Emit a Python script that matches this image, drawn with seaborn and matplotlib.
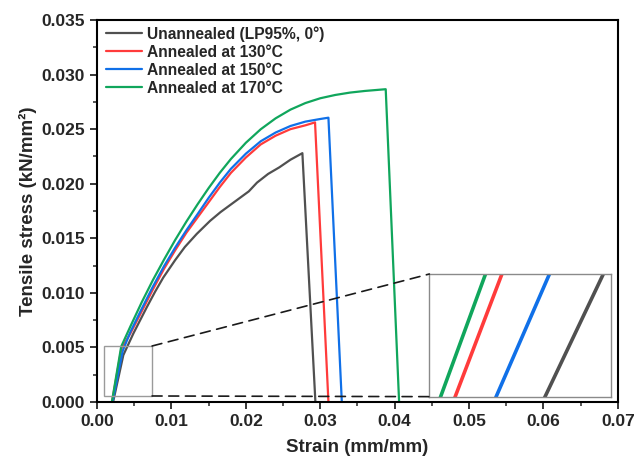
import numpy as np
import pandas as pd
import matplotlib
matplotlib.use("Agg")
import matplotlib.pyplot as plt
import seaborn as sns
from matplotlib.patches import Rectangle, ConnectionPatch
from matplotlib.ticker import MultipleLocator, FormatStrFormatter

# ---------------- data ----------------
series_names = ["Unannealed (LP95%, 0°)", "Annealed at 130°C",
                "Annealed at 150°C", "Annealed at 170°C"]

strain_unannealed = [0.002159, 0.003537, 0.0049, 0.0067, 0.0078, 0.0089, 0.0105,
                     0.0118, 0.0134, 0.0152, 0.0166, 0.0179, 0.0192, 0.0204,
                     0.0215, 0.0230, 0.0245, 0.0260, 0.0276, 0.02935]
stress_unannealed = [0.0, 0.0043, 0.0063, 0.0087, 0.0101, 0.0114, 0.0130,
                     0.0142, 0.0154, 0.0166, 0.0174, 0.01805, 0.0187, 0.0193,
                     0.0201, 0.0209, 0.0215, 0.0222, 0.0228, 0.0]

strain_130 = [0.002017, 0.003277, 0.0045, 0.0060, 0.0075, 0.0090, 0.0105,
              0.0120, 0.0135, 0.0150, 0.0165, 0.0180, 0.0200, 0.0220,
              0.0240, 0.0260, 0.0280, 0.0293, 0.0311]
stress_130 = [0.0, 0.0049, 0.0063, 0.0083, 0.0103, 0.0122, 0.0139,
              0.0155, 0.0169, 0.0183, 0.0197, 0.0210, 0.0224, 0.0236,
              0.0244, 0.0250, 0.02535, 0.02562, 0.0]

strain_150 = [0.002081, 0.003459, 0.0045, 0.0060, 0.0075, 0.0090, 0.0105,
              0.0120, 0.0135, 0.0150, 0.0165, 0.0180, 0.0200, 0.0220,
              0.0240, 0.0260, 0.0280, 0.0300, 0.0311, 0.0329]
stress_150 = [0.0, 0.0047, 0.00645, 0.00853, 0.01056, 0.01244, 0.01414,
              0.01572, 0.0172, 0.0187, 0.0201, 0.02137, 0.02275, 0.02389,
              0.02469, 0.02529, 0.02569, 0.02593, 0.02605, 0.0]

strain_170 = [0.001994, 0.003246, 0.0045, 0.0060, 0.0075, 0.0090, 0.0105,
              0.0120, 0.0135, 0.0150, 0.0165, 0.0180, 0.0200, 0.0220,
              0.0240, 0.0260, 0.0280, 0.0300, 0.0320, 0.0340, 0.0360,
              0.0388, 0.0406]
stress_170 = [0.0, 0.00507, 0.00695, 0.00913, 0.01116, 0.01304, 0.01484,
              0.01652, 0.0181, 0.0196, 0.0210, 0.02227, 0.02375, 0.02499,
              0.02599, 0.02679, 0.02739, 0.02783, 0.02813, 0.02835, 0.0285,
              0.02866, 0.0]

colors = ["#505050", "#FF3B3B", "#1070E8", "#10A65C"]

frames = []
for name, xs, ys in zip(series_names,
                        [strain_unannealed, strain_130, strain_150, strain_170],
                        [stress_unannealed, stress_130, stress_150, stress_170]):
    frames.append(pd.DataFrame({"strain": xs, "stress": ys, "series": name}))
df = pd.concat(frames, ignore_index=True)
palette = dict(zip(series_names, colors))

# ---------------- plot ----------------
sns.set_style("ticks")
plt.rcParams["font.family"] = ["Liberation Sans", "DejaVu Sans"]
plt.rcParams["font.weight"] = "bold"

fig = plt.figure(figsize=(6.35, 4.59), dpi=100)
ax = fig.add_axes([0.1528, 0.1242, 0.8202, 0.8322])

sns.lineplot(data=df, x="strain", y="stress", hue="series", palette=palette,
             hue_order=series_names, estimator=None, sort=False, lw=1.6,
             ax=ax, legend=False)

ax.set_xlim(0, 0.07)
ax.set_ylim(0, 0.035)
ax.xaxis.set_major_locator(MultipleLocator(0.01))
ax.xaxis.set_minor_locator(MultipleLocator(0.005))
ax.yaxis.set_major_locator(MultipleLocator(0.005))
ax.yaxis.set_minor_locator(MultipleLocator(0.0025))
ax.xaxis.set_major_formatter(FormatStrFormatter("%.2f"))
ax.yaxis.set_major_formatter(FormatStrFormatter("%.3f"))
ax.tick_params(which="major", direction="out", length=5, width=1.3,
               labelsize=12.5, top=False, right=False)
ax.tick_params(which="minor", direction="out", length=3, width=1.1,
               top=False, right=False)
for lab in ax.get_xticklabels() + ax.get_yticklabels():
    lab.set_fontweight("bold")
for sp in ax.spines.values():
    sp.set_visible(True)
    sp.set_linewidth(1.5)
    sp.set_color("black")

ax.set_xlabel("Strain (mm/mm)", fontsize=13.5, fontweight="bold", labelpad=7)
ax.set_ylabel("Tensile stress (kN/mm²)", fontsize=13.5, fontweight="bold", labelpad=3)

handles = [plt.Line2D([], [], color=c, lw=1.6) for c in colors]
leg = ax.legend(handles, series_names, loc="upper left", frameon=False,
                prop={"weight": "bold", "size": 11.25}, handlelength=2.3,
                handletextpad=0.3, labelspacing=0.2,
                bbox_to_anchor=(0.0, 1.009), borderaxespad=0.2)

# zoom box on main axes
ax.add_patch(Rectangle((0.00094, 0.00055), 0.00646, 0.00458, fill=False,
                       edgecolor="#9a9a9a", lw=1.0, zorder=5))

# inset
axins = ax.inset_axes([0.638, 0.014, 0.349, 0.321])
sns.lineplot(data=df, x="strain", y="stress", hue="series", palette=palette,
             hue_order=series_names, estimator=None, sort=False, lw=2.6,
             ax=axins, legend=False)
axins.set_xlim(0.0020, 0.0023)
axins.set_ylim(0.0001, 0.0004)
axins.set_xticks([])
axins.set_yticks([])
axins.set_xlabel("")
axins.set_ylabel("")
for sp in axins.spines.values():
    sp.set_visible(True)
    sp.set_color("#8a8a8a")
    sp.set_linewidth(1.0)

for (xa, ya), (xb, yb) in [((0.0074, 0.00513), (0, 1)), ((0.0074, 0.00055), (0, 0))]:
    con = ConnectionPatch(xyA=(xa, ya), coordsA=ax.transData,
                          xyB=(xb, yb), coordsB=axins.transAxes,
                          color="#1a1a1a", lw=1.2, linestyle=(0, (6, 4)), zorder=6)
    ax.add_artist(con)

fig.savefig("out.png", dpi=100)
